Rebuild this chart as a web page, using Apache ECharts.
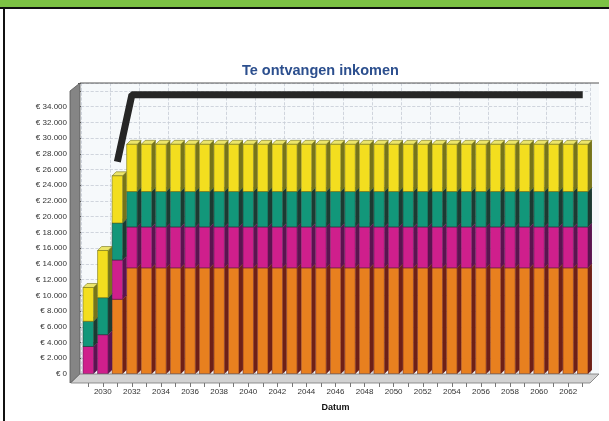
<!DOCTYPE html>
<html>
<head>
<meta charset="utf-8">
<style>
  html, body { margin: 0; padding: 0; background: #fff; }
  #chart { width: 609px; height: 421px; }
</style>
</head>
<body>
<div id="chart"></div>
<script src="https://cdn.jsdelivr.net/npm/echarts@6/dist/echarts.min.js"></script>
<script>
  const years = ['2029', '2030', '2031', '2032', '2033', '2034', '2035', '2036', '2037', '2038',
    '2039', '2040', '2041', '2042', '2043', '2044', '2045', '2046', '2047', '2048',
    '2049', '2050', '2051', '2052', '2053', '2054', '2055', '2056', '2057', '2058',
    '2059', '2060', '2061', '2062', '2063'];

  // stapels van onder naar boven
  const oranje = [0, 0, 9500, 13500, 13500, 13500, 13500, 13500, 13500, 13500,
    13500, 13500, 13500, 13500, 13500, 13500, 13500, 13500, 13500, 13500,
    13500, 13500, 13500, 13500, 13500, 13500, 13500, 13500, 13500, 13500,
    13500, 13500, 13500, 13500, 13500];
  const roze = [3500, 5000, 5000, 5200, 5200, 5200, 5200, 5200, 5200, 5200,
    5200, 5200, 5200, 5200, 5200, 5200, 5200, 5200, 5200, 5200,
    5200, 5200, 5200, 5200, 5200, 5200, 5200, 5200, 5200, 5200,
    5200, 5200, 5200, 5200, 5200];
  const groen = [3200, 4700, 4700, 4500, 4500, 4500, 4500, 4500, 4500, 4500,
    4500, 4500, 4500, 4500, 4500, 4500, 4500, 4500, 4500, 4500,
    4500, 4500, 4500, 4500, 4500, 4500, 4500, 4500, 4500, 4500,
    4500, 4500, 4500, 4500, 4500];
  const geel = [4300, 6000, 6000, 6000, 6000, 6000, 6000, 6000, 6000, 6000,
    6000, 6000, 6000, 6000, 6000, 6000, 6000, 6000, 6000, 6000,
    6000, 6000, 6000, 6000, 6000, 6000, 6000, 6000, 6000, 6000,
    6000, 6000, 6000, 6000, 6000];
  // zwarte lijn
  const lijn = [null, null, 27000, 35500, 35500, 35500, 35500, 35500, 35500, 35500,
    35500, 35500, 35500, 35500, 35500, 35500, 35500, 35500, 35500, 35500,
    35500, 35500, 35500, 35500, 35500, 35500, 35500, 35500, 35500, 35500,
    35500, 35500, 35500, 35500, 35500];

  const layers = [
    { name: 'Oranje', values: oranje, front: '#e8801f', side: '#6e2017', top: '#f0a050' },
    { name: 'Roze', values: roze, front: '#cf1f8c', side: '#5a1450', top: '#e060a8' },
    { name: 'Groen', values: groen, front: '#12977a', side: '#1c3a32', top: '#40b898' },
    { name: 'Geel', values: geel, front: '#f3de1f', side: '#76741a', top: '#ece56a' }
  ];

  const chart = echarts.init(document.getElementById('chart'));

  const D = 4; // diepte van de 3D-blokjes

  function renderBlock(front, side, top) {
    return function (params, api) {
      const lo = api.value(1), hi = api.value(2);
      if (hi <= lo) return null;
      const a = api.coord([api.value(0), lo]);
      const b = api.coord([api.value(0), hi]);
      const w = api.size([1, 0])[0] * 0.72;
      const x0 = a[0] - w / 2;
      return {
        type: 'group',
        children: [
          {
            type: 'polygon',
            shape: { points: [[x0 + w, b[1]], [x0 + w + D, b[1] - D], [x0 + w + D, a[1] - D], [x0 + w, a[1]]] },
            style: { fill: side }
          },
          {
            type: 'polygon',
            shape: { points: [[x0, b[1]], [x0 + D, b[1] - D], [x0 + w + D, b[1] - D], [x0 + w, b[1]]] },
            style: { fill: top, stroke: side, lineWidth: 0.6 }
          },
          {
            type: 'rect',
            shape: { x: x0, y: b[1], width: w, height: a[1] - b[1] },
            style: { fill: front, stroke: side, lineWidth: 0.6 }
          }
        ]
      };
    };
  }

  const base = years.map(() => 0);
  const blockSeries = layers.map(l => {
    const data = l.values.map((v, i) => {
      const item = [i, base[i], base[i] + v];
      base[i] += v;
      return item;
    });
    return {
      name: l.name,
      type: 'custom',
      renderItem: renderBlock(l.front, l.side, l.top),
      encode: { x: 0, y: [1, 2] },
      data: data
    };
  });

  function euro(v) {
    if (v > 34000) return '';
    return '€ ' + String(v).replace(/\B(?=(\d{3})+(?!\d))/g, '.');
  }

  const option = {
    animation: false,
    textStyle: { fontFamily: 'Liberation Sans, Arial, sans-serif' },
    title: {
      text: 'Te ontvangen inkomen',
      left: 237,
      top: 58,
      textStyle: { fontSize: 14.5, fontWeight: 'bold', color: '#2c4f8e' }
    },
    grid: { left: 81, right: 19, top: 83, bottom: 47 },
    xAxis: {
      type: 'category',
      data: years,
      name: 'Datum',
      nameLocation: 'middle',
      nameGap: 29,
      nameTextStyle: { fontSize: 9, fontWeight: 'bold', color: '#111' },
      axisLine: { show: false },
      axisTick: { show: true, alignWithLabel: true, interval: 0, length: 13, lineStyle: { color: '#777' } },
      axisLabel: {
        interval: (i, v) => Number(v) % 2 === 0,
        fontSize: 8,
        color: '#333',
        margin: 14
      },
      splitLine: {
        show: true,
        interval: (i) => i % 2 === 0,
        lineStyle: { color: '#c7ccd6', type: 'dashed', width: 0.8 }
      }
    },
    yAxis: {
      type: 'value',
      min: 0,
      max: 37000,
      interval: 2000,
      axisLine: { show: false },
      axisTick: { show: true, length: 3, lineStyle: { color: '#555' } },
      axisLabel: { formatter: euro, fontSize: 8, color: '#333', margin: 14 },
      splitLine: { lineStyle: { color: '#c7ccd6', type: 'dashed', width: 0.8 } }
    },
    graphic: [
      { type: 'rect', z: -10, shape: { x: 80, y: 83, width: 519, height: 291 }, style: { fill: '#f6f9fb' } },
      { type: 'line', z: 5, shape: { x1: 80, y1: 83, x2: 599, y2: 83 }, style: { stroke: '#555', lineWidth: 1 } },
      { type: 'polygon', z: 5, shape: { points: [[70, 91], [80, 83], [80, 374], [70, 383]] }, style: { fill: '#858585', stroke: '#555', lineWidth: 0.8 } },
      { type: 'polygon', z: 5, shape: { points: [[80, 374], [599, 374], [590, 383], [71, 383]] }, style: { fill: '#d2d2d2', stroke: '#777', lineWidth: 0.8 } },
      { type: 'rect', z: 20, shape: { x: 0, y: 0, width: 609, height: 7 }, style: { fill: '#7cc244' } },
      { type: 'line', z: 20, shape: { x1: 0, y1: 8, x2: 609, y2: 8 }, style: { stroke: '#111', lineWidth: 2 } },
      { type: 'line', z: 20, shape: { x1: 4, y1: 8, x2: 4, y2: 421 }, style: { stroke: '#111', lineWidth: 2 } }
    ],
    series: blockSeries.concat([
      {
        name: 'Totaal',
        type: 'line',
        data: lijn,
        symbol: 'none',
        z: 4,
        lineStyle: { color: '#262626', width: 7, cap: 'butt' }
      }
    ])
  };

  chart.setOption(option);
</script>
</body>
</html>
